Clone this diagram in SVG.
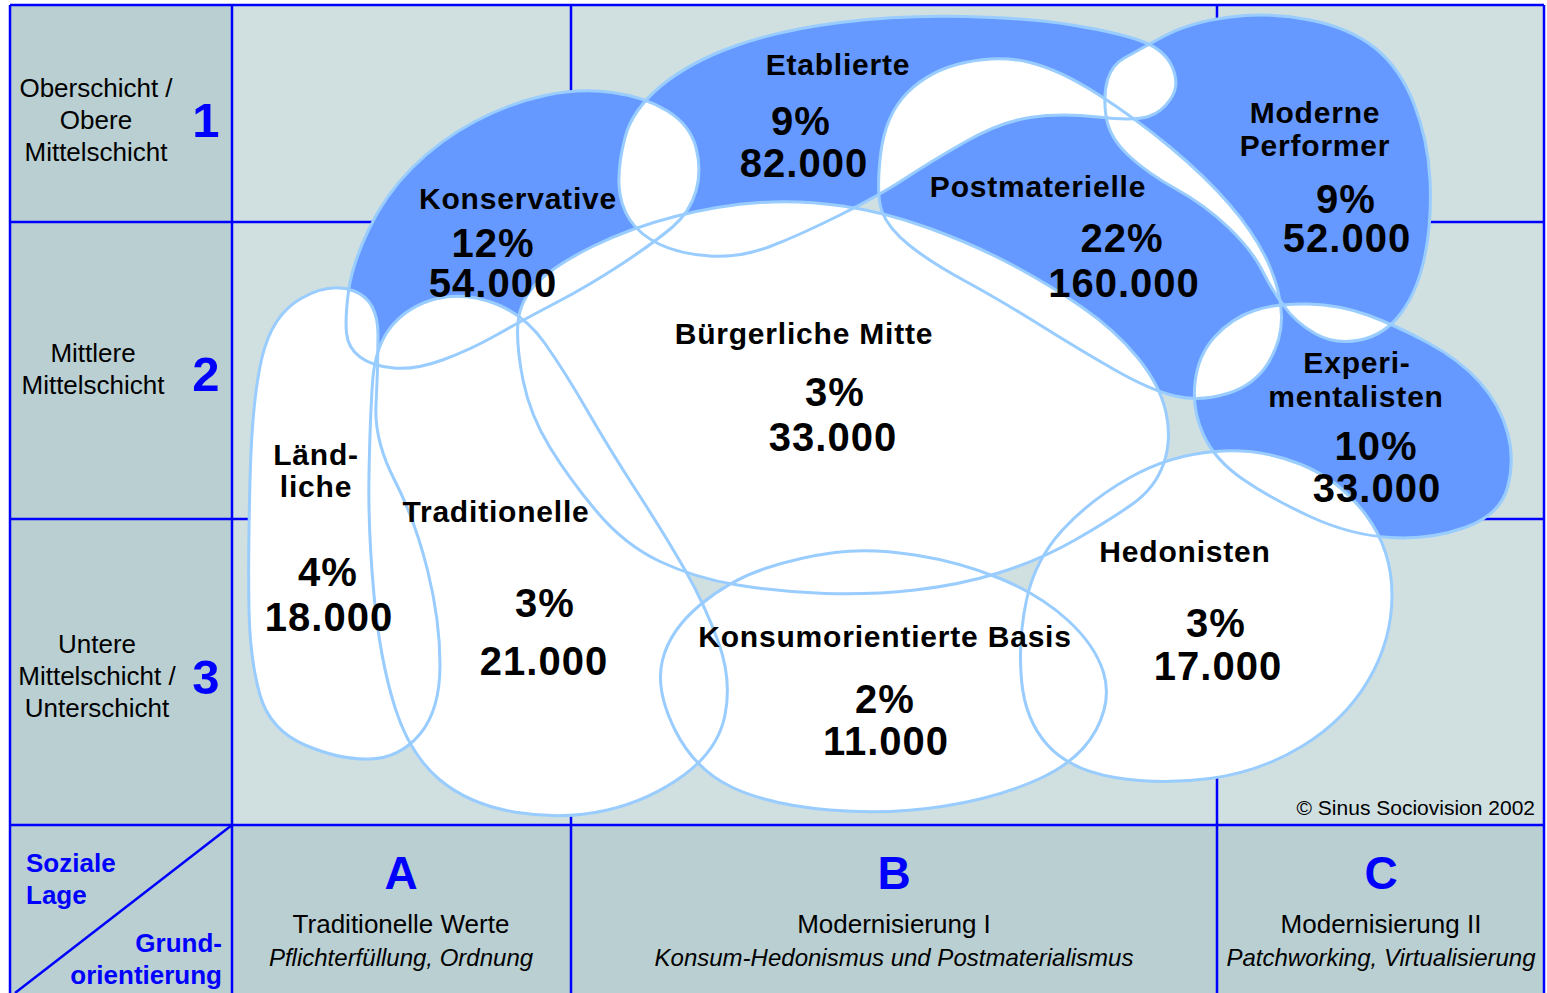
<svg xmlns="http://www.w3.org/2000/svg" xmlns:xlink="http://www.w3.org/1999/xlink" width="1547" height="993" viewBox="0 0 1547 993">
<style>
.bg1{fill:#d0dfe0}
.bg2{fill:#b9cfd1}
.grid{stroke:#0000ff;stroke-width:2.5;fill:none}
.blue{fill:#6699ff}
.white{fill:#ffffff}
.ol{fill:none;stroke:#99ccff;stroke-width:3}
.lab{font-family:"Liberation Sans",Arial,sans-serif;font-weight:bold;font-size:30px;fill:#000;text-anchor:middle;letter-spacing:0.8px}
.num{font-family:"Liberation Sans",Arial,sans-serif;font-weight:bold;font-size:40px;fill:#000;text-anchor:middle;letter-spacing:1px}
.side{font-family:"Liberation Sans",Arial,sans-serif;font-size:26px;fill:#000;text-anchor:middle}
.rown{font-family:"Liberation Sans",Arial,sans-serif;font-weight:bold;font-size:49px;fill:#0000ff;text-anchor:middle}
.colh{font-family:"Liberation Sans",Arial,sans-serif;font-weight:bold;font-size:46px;fill:#0000ff;text-anchor:middle}
.colt{font-family:"Liberation Sans",Arial,sans-serif;font-size:26px;fill:#000;text-anchor:middle}
.coli{font-family:"Liberation Sans",Arial,sans-serif;font-style:italic;font-size:24px;fill:#000;text-anchor:middle}
.axis{font-family:"Liberation Sans",Arial,sans-serif;font-weight:bold;font-size:26px;fill:#0000ff}
.copy{font-family:"Liberation Sans",Arial,sans-serif;font-size:21px;fill:#000;text-anchor:end}
</style>
<defs>
<path id="p-etab" d="M619,185 Q618,165 625,137.5 Q632,110 661,86 Q690,62 735,46 Q780,30 840,22.5 Q900,15 965,16.5 Q1030,18 1075,25.5 Q1120,33 1142.5,41.5 Q1165,50 1172.5,67.5 Q1180,85 1171,98.5 Q1162,112 1148.5,116.5 Q1135,121 1097.5,117 Q1060,113 1030,117.5 Q1000,122 965,142 Q930,162 905,178.5 Q880,195 840,215 Q800,235 770,246.5 Q740,258 710,256 Q680,254 660,244.5 Q640,235 630,220 Q620,205 619,185 Z"/>
<path id="p-kons" d="M346.5,333 Q345,318 348.5,291.5 Q352,265 368.5,230 Q385,195 412.5,167.5 Q440,140 475,121.5 Q510,103 545,95.5 Q580,88 612.5,92.5 Q645,97 667.5,111 Q690,125 696,147.5 Q702,170 696,191 Q690,212 672.5,227 Q655,242 622.5,263.5 Q590,285 556.5,302.5 Q523,320 496.5,335 Q470,350 442.5,360 Q415,370 393.5,368 Q372,366 360,357 Q348,348 346.5,333 Z"/>
<path id="p-post" d="M882,211.5 Q876,195 880.5,155 Q885,115 907.5,92.5 Q930,70 965,62.5 Q1000,55 1030,62.5 Q1060,70 1097.5,94 Q1135,118 1170,147 Q1205,176 1230,205 Q1255,234 1268,262.5 Q1281,291 1281.5,316 Q1282,340 1268.5,362.5 Q1255,385 1227.5,393.5 Q1200,402 1175,396 Q1150,390 1115,370 Q1080,350 1040,325 Q1000,300 965,281 Q930,262 909,245 Q888,228 882,211.5 Z"/>
<path id="p-mp" d="M1123.5,58.5 Q1135,52 1162.5,37 Q1190,22 1230,17 Q1270,12 1310,20 Q1350,28 1375,48 Q1400,68 1414,104 Q1428,140 1430,180 Q1432,220 1425,255 Q1418,290 1401.5,312.5 Q1385,335 1360,340 Q1335,345 1315,333.5 Q1295,322 1284,306 Q1273,292 1262.5,271 Q1252,250 1228.5,227.5 Q1205,205 1176,189 Q1147,173 1128,155 Q1109,137 1106,116 Q1103,95 1107.5,80 Q1112,65 1123.5,58.5 Z"/>
<path id="p-exp" d="M1254.5,310.5 Q1277,303 1308.5,304 Q1340,305 1367.5,315 Q1395,325 1427.5,342.5 Q1460,360 1480,382.5 Q1500,405 1507.5,432.5 Q1515,460 1507.5,487.5 Q1500,515 1465,527.5 Q1430,540 1390,537.5 Q1350,535 1310,516.5 Q1270,498 1242.5,479 Q1215,460 1203.5,435 Q1192,410 1195,382.5 Q1198,355 1215,336.5 Q1232,318 1254.5,310.5 Z"/>
<path id="p-bm" d="M523,380 Q516,345 518,322.5 Q520,300 537.5,282.5 Q555,265 592.5,246.5 Q630,228 675,216.5 Q720,205 760,202.5 Q800,200 842.5,206 Q885,212 930,228.5 Q975,245 1012.5,265 Q1050,285 1082.5,307.5 Q1115,330 1137.5,357.5 Q1160,385 1166,412.5 Q1172,440 1163.5,464 Q1155,488 1132.5,504 Q1110,520 1075,540 Q1040,560 1000,572.5 Q960,585 915,590 Q870,595 825,593.5 Q780,592 737.5,585 Q695,578 660,561.5 Q625,545 597.5,512.5 Q570,480 550,447.5 Q530,415 523,380 Z"/>
<path id="p-kon" d="M675,730 Q655,690 662.5,660 Q670,630 700,605 Q730,580 765,568.5 Q800,557 835,552.5 Q870,548 915,555 Q960,562 1000,578.5 Q1040,595 1067.5,620 Q1095,645 1103.5,672.5 Q1112,700 1096,730 Q1080,760 1040,778.5 Q1000,797 945,806 Q890,815 830,810 Q770,805 732.5,787.5 Q695,770 675,730 Z"/>
<path id="p-trad" d="M369,475 Q370,420 372.5,382.5 Q375,345 392.5,325 Q410,305 437.5,298.5 Q465,292 495,303.5 Q525,315 545,343.5 Q565,372 587.5,411 Q610,450 637.5,492.5 Q665,535 685,570 Q705,605 718.5,642.5 Q732,680 725,715 Q718,750 684,775 Q650,800 607.5,810 Q565,820 517.5,812.5 Q470,805 440,780 Q410,755 395,707.5 Q380,660 374,595 Q368,530 369,475 Z"/>
<path id="p-land" d="M249,610 Q248,560 250,480 Q252,400 262,357.5 Q272,315 301,298.5 Q330,282 354,291 Q378,300 378,335 Q378,370 376,405 Q374,440 394.5,480 Q415,520 427.5,570 Q440,620 440,665 Q440,710 420,734 Q400,758 370,759 Q340,760 305,745 Q270,730 260,695 Q250,660 249,610 Z"/>
<path id="p-hed" d="M1021.5,680 Q1018,640 1026.5,600 Q1035,560 1062.5,530 Q1090,500 1130,477.5 Q1170,455 1215,451.5 Q1260,448 1300,464 Q1340,480 1366,515 Q1392,550 1392,595 Q1392,640 1368.5,680 Q1345,720 1302.5,746 Q1260,772 1210,778.5 Q1160,785 1115,777.5 Q1070,770 1047.5,745 Q1025,720 1021.5,680 Z"/>
<clipPath id="c-etab"><use xlink:href="#p-etab"/></clipPath>
<clipPath id="c-post"><use xlink:href="#p-post"/></clipPath>
<clipPath id="c-mp"><use xlink:href="#p-mp"/></clipPath>
</defs>

<g id="background">
<rect class="bg1" x="10" y="5" width="1534" height="988"/>
<rect class="bg2" x="10" y="5" width="222" height="988"/>
<rect class="bg2" x="232" y="825" width="1312" height="168"/>
</g>
<g id="grid">
<line class="grid" x1="10" y1="5" x2="1544" y2="5"/>
<line class="grid" x1="10" y1="5" x2="10" y2="993"/>
<line class="grid" x1="1544" y1="5" x2="1544" y2="993"/>
<line class="grid" x1="232" y1="5" x2="232" y2="993"/>
<line class="grid" x1="571" y1="5" x2="571" y2="993"/>
<line class="grid" x1="1217" y1="5" x2="1217" y2="993"/>
<line class="grid" x1="10" y1="222" x2="1544" y2="222"/>
<line class="grid" x1="10" y1="519" x2="1544" y2="519"/>
<line class="grid" x1="10" y1="825" x2="1544" y2="825"/>
<line class="grid" x1="232" y1="825" x2="15" y2="993"/>
</g>

<g id="fills">
<use xlink:href="#p-etab" class="blue"/>
<use xlink:href="#p-kons" class="blue"/>
<use xlink:href="#p-post" class="blue"/>
<use xlink:href="#p-mp" class="blue"/>
<use xlink:href="#p-exp" class="blue"/>
<use xlink:href="#p-bm" class="white"/>
<use xlink:href="#p-kon" class="white"/>
<use xlink:href="#p-trad" class="white"/>
<use xlink:href="#p-land" class="white"/>
<use xlink:href="#p-hed" class="white"/>
<use xlink:href="#p-kons" class="white" clip-path="url(#c-etab)"/>
<use xlink:href="#p-post" class="white" clip-path="url(#c-etab)"/>
<use xlink:href="#p-mp" class="white" clip-path="url(#c-etab)"/>
<use xlink:href="#p-mp" class="white" clip-path="url(#c-post)"/>
<use xlink:href="#p-exp" class="white" clip-path="url(#c-post)"/>
<use xlink:href="#p-exp" class="white" clip-path="url(#c-mp)"/>
</g>

<g id="outlines">
<use id="ol-etablierte" xlink:href="#p-etab" class="ol"/>
<use id="ol-konservative" xlink:href="#p-kons" class="ol"/>
<use id="ol-postmaterielle" xlink:href="#p-post" class="ol"/>
<use id="ol-moderne-performer" xlink:href="#p-mp" class="ol"/>
<use id="ol-experimentalisten" xlink:href="#p-exp" class="ol"/>
<use id="ol-buergerliche-mitte" xlink:href="#p-bm" class="ol"/>
<use id="ol-konsumorientierte-basis" xlink:href="#p-kon" class="ol"/>
<use id="ol-traditionelle" xlink:href="#p-trad" class="ol"/>
<use id="ol-laendliche" xlink:href="#p-land" class="ol"/>
<use id="ol-hedonisten" xlink:href="#p-hed" class="ol"/>
</g>

<g id="node-etablierte">
<text class="lab" x="838" y="75">Etablierte</text>
<text class="num" x="801" y="135">9%</text>
<text class="num" x="804" y="177">82.000</text>
</g>
<g id="node-konservative">
<text class="lab" x="518" y="209">Konservative</text>
<text class="num" x="493" y="257">12%</text>
<text class="num" x="493" y="297">54.000</text>
</g>
<g id="node-postmaterielle">
<text class="lab" x="1038" y="197">Postmaterielle</text>
<text class="num" x="1122" y="252">22%</text>
<text class="num" x="1124" y="297">160.000</text>
</g>
<g id="node-moderne-performer">
<text class="lab" x="1315" y="123">Moderne</text>
<text class="lab" x="1315" y="156">Performer</text>
<text class="num" x="1346" y="213">9%</text>
<text class="num" x="1347" y="252">52.000</text>
</g>
<g id="node-experimentalisten">
<text class="lab" x="1357" y="373">Experi-</text>
<text class="lab" x="1356" y="407">mentalisten</text>
<text class="num" x="1376" y="460">10%</text>
<text class="num" x="1377" y="502">33.000</text>
</g>
<g id="node-buergerliche-mitte">
<text class="lab" x="804" y="344">Bürgerliche Mitte</text>
<text class="num" x="835" y="406">3%</text>
<text class="num" x="833" y="451">33.000</text>
</g>
<g id="node-konsumorientierte-basis">
<text class="lab" x="885" y="647">Konsumorientierte Basis</text>
<text class="num" x="885" y="713">2%</text>
<text class="num" x="886" y="755">11.000</text>
</g>
<g id="node-traditionelle">
<text class="lab" x="496" y="522">Traditionelle</text>
<text class="num" x="545" y="617">3%</text>
<text class="num" x="544" y="675">21.000</text>
</g>
<g id="node-laendliche">
<text class="lab" x="316" y="465">Länd-</text>
<text class="lab" x="316" y="497">liche</text>
<text class="num" x="328" y="586">4%</text>
<text class="num" x="329" y="631">18.000</text>
</g>
<g id="node-hedonisten">
<text class="lab" x="1185" y="562">Hedonisten</text>
<text class="num" x="1216" y="637">3%</text>
<text class="num" x="1218" y="680">17.000</text>
</g>

<g id="row-labels">
<text class="side" x="96" y="97">Oberschicht /</text>
<text class="side" x="96" y="129">Obere</text>
<text class="side" x="96" y="161">Mittelschicht</text>
<text class="rown" x="206" y="137">1</text>
<text class="side" x="93" y="362">Mittlere</text>
<text class="side" x="93" y="394">Mittelschicht</text>
<text class="rown" x="206" y="391">2</text>
<text class="side" x="97" y="653">Untere</text>
<text class="side" x="97" y="685">Mittelschicht /</text>
<text class="side" x="97" y="717">Unterschicht</text>
<text class="rown" x="206" y="694">3</text>
</g>
<g id="axis-labels">
<text class="axis" x="26" y="872">Soziale</text>
<text class="axis" x="26" y="904">Lage</text>
<text class="axis" x="222" y="952" text-anchor="end">Grund-</text>
<text class="axis" x="222" y="984" text-anchor="end">orientierung</text>
</g>
<g id="column-labels">
<text class="colh" x="401" y="889">A</text>
<text class="colt" x="401" y="933">Traditionelle Werte</text>
<text class="coli" x="401" y="966">Pflichterfüllung, Ordnung</text>
<text class="colh" x="894" y="889">B</text>
<text class="colt" x="894" y="933">Modernisierung I</text>
<text class="coli" x="894" y="966">Konsum-Hedonismus und Postmaterialismus</text>
<text class="colh" x="1381" y="889">C</text>
<text class="colt" x="1381" y="933">Modernisierung II</text>
<text class="coli" x="1381" y="966">Patchworking, Virtualisierung</text>
</g>
<text class="copy" x="1535" y="815">© Sinus Sociovision 2002</text>
</svg>
